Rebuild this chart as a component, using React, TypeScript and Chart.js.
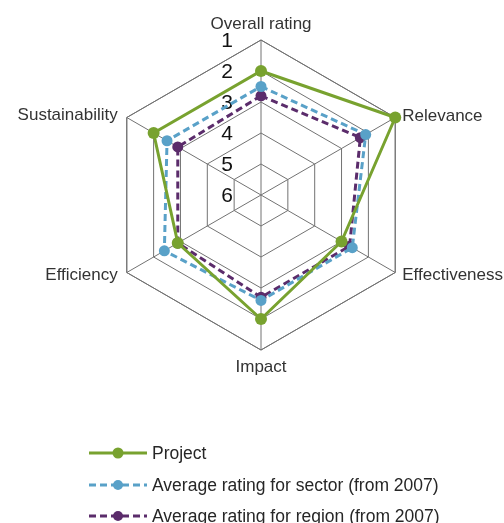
import React, { useEffect, useRef } from "react";
import { Chart, registerables } from "chart.js";

Chart.register(...registerables);

const categories = ["Overall rating", "Relevance", "Effectiveness", "Impact", "Efficiency", "Sustainability"];
const projectValues = [2.0, 1.0, 3.0, 2.0, 2.9, 2.0];
const sectorValues = [2.5, 2.1, 2.6, 2.6, 2.4, 2.5];
const regionValues = [2.8, 2.3, 2.7, 2.7, 2.9, 2.9];
const tickValues = [1, 2, 3, 4, 5, 6];
const seriesNames = [
  "Project",
  "Average rating for sector (from 2007)",
  "Average rating for region (from 2007)",
];
const seriesColors = ["#78a22f", "#59a1c8", "#5b2c6b"];
const seriesDashes: number[][] = [[], [7, 4], [7, 4]];
const seriesValues = [projectValues, sectorValues, regionValues];

const GRID = "#727272";
const FONT = "'Liberation Sans', Arial, sans-serif";

const radarDecor = {
  id: "radarDecor",
  beforeDatasetsDraw(chart: any) {
    const scale = chart.scales.r;
    const ctx = chart.ctx;
    const n = chart.data.labels.length;
    ctx.save();
    ctx.strokeStyle = GRID;
    ctx.lineWidth = 1;
    for (let i = 0; i < n; i++) {
      const p = scale.getPointPositionForValue(i, scale.min);
      ctx.beginPath();
      ctx.moveTo(scale.xCenter, scale.yCenter);
      ctx.lineTo(p.x, p.y);
      ctx.stroke();
    }
    ctx.beginPath();
    for (let i = 0; i < n; i++) {
      const p = scale.getPointPositionForValue(i, scale.min);
      if (i === 0) ctx.moveTo(p.x, p.y);
      else ctx.lineTo(p.x, p.y);
    }
    ctx.closePath();
    ctx.stroke();
    ctx.fillStyle = "#111";
    ctx.font = `21px ${FONT}`;
    ctx.textAlign = "right";
    ctx.textBaseline = "middle";
    tickValues.forEach((v) => {
      const d = scale.getDistanceFromCenterForValue(v);
      ctx.fillText(String(v), scale.xCenter - 28, scale.yCenter - d + 1);
    });
    ctx.fillStyle = "#333";
    ctx.font = `17px ${FONT}`;
    chart.data.labels.forEach((lab: string, i: number) => {
      const p = scale.getPointPositionForValue(i, scale.min);
      const dx = p.x - scale.xCenter;
      const dy = p.y - scale.yCenter;
      if (Math.abs(dx) < 1) {
        ctx.textAlign = "center";
        ctx.fillText(lab, p.x, dy < 0 ? p.y - 16 : p.y + 17);
      } else if (dx > 0) {
        ctx.textAlign = "left";
        ctx.fillText(lab, p.x + 7, p.y + (dy < 0 ? -1 : 3));
      } else {
        ctx.textAlign = "right";
        ctx.fillText(lab, p.x - 9, p.y + (dy < 0 ? -2 : 3));
      }
    });
    ctx.restore();
  },
  afterDraw(chart: any) {
    const ctx = chart.ctx;
    const ys = [453, 485, 516];
    ctx.save();
    seriesNames.forEach((name, i) => {
      const y = ys[i];
      ctx.strokeStyle = seriesColors[i];
      ctx.lineWidth = 3;
      ctx.setLineDash(seriesDashes[i]);
      ctx.beginPath();
      ctx.moveTo(89, y);
      ctx.lineTo(147, y);
      ctx.stroke();
      ctx.setLineDash([]);
      ctx.fillStyle = seriesColors[i];
      ctx.beginPath();
      ctx.arc(118, y, i === 0 ? 5.5 : 5, 0, Math.PI * 2);
      ctx.fill();
      ctx.fillStyle = "#262626";
      ctx.font = `17.5px ${FONT}`;
      ctx.textAlign = "left";
      ctx.textBaseline = "middle";
      ctx.fillText(name, 152, y + 1);
    });
    ctx.restore();
  },
};

export default function App() {
  const ref = useRef<HTMLCanvasElement | null>(null);
  useEffect(() => {
    document.body.style.margin = "0";
    const canvas = ref.current;
    if (!canvas) return;
    const chart = new Chart(canvas, {
      type: "radar",
      data: {
        labels: categories,
        datasets: seriesValues.map((vals, i) => ({
          label: seriesNames[i],
          data: vals,
          borderColor: seriesColors[i],
          backgroundColor: seriesColors[i],
          pointBackgroundColor: seriesColors[i],
          pointBorderColor: seriesColors[i],
          pointBorderWidth: 0,
          pointRadius: i === 0 ? 6 : 5.5,
          borderWidth: 3,
          borderDash: seriesDashes[i],
          fill: false,
          tension: 0,
        })),
      },
      options: {
        responsive: false,
        animation: false,
        layout: { padding: { top: 40, bottom: 173, left: 18, right: 0 } },
        plugins: { legend: { display: false }, tooltip: { enabled: false } },
        scales: {
          r: {
            min: 1,
            max: 6,
            reverse: true,
            ticks: { display: false, stepSize: 1 },
            pointLabels: { display: false },
            grid: { color: GRID, lineWidth: 1 },
            angleLines: { display: false },
          },
        },
      },
      plugins: [radarDecor],
    } as any);
    return () => chart.destroy();
  }, []);
  return (
    <div style={{ width: 504, height: 523, background: "#fff" }}>
      <canvas ref={ref} width={504} height={523} style={{ display: "block" }} />
    </div>
  );
}
